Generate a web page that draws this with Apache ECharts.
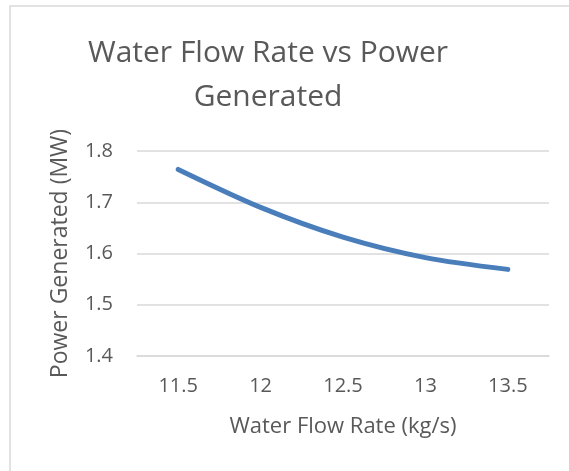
<!DOCTYPE html>
<html>
<head>
<meta charset="utf-8">
<script src="https://cdn.jsdelivr.net/npm/echarts@6/dist/echarts.min.js"></script>
<style>
  html, body { margin: 0; padding: 0; background: #fff; }
  #chart { width: 569px; height: 471px; }
</style>
</head>
<body>
<div id="chart"></div>
<script>
// flow rate categories and power values
const flowRates = ['11.5', '12', '12.5', '13', '13.5'];
const powerMW = [1.764, 1.690, 1.632, 1.592, 1.569];
const yTicks = { min: 1.4, max: 1.8, step: 0.1 };

const font = '"Open Sans", "Noto Sans", sans-serif';
const grey = '#595959';

const chart = echarts.init(document.getElementById('chart'));
chart.setOption({
  animation: false,
  backgroundColor: '#fff',
  // outer chart border
  graphic: [{
    type: 'rect',
    shape: { x: 10, y: 6, width: 700, height: 600 },
    style: { fill: 'none', stroke: '#d9d9d9', lineWidth: 1.5 },
    silent: true
  }],
  title: {
    text: 'Water Flow Rate vs Power\nGenerated',
    left: 263,
    textAlign: 'center',
    top: 26,
    textStyle: {
      fontFamily: font,
      fontSize: 30,
      fontWeight: 'normal',
      color: grey,
      lineHeight: 44
    }
  },
  grid: { left: 137, right: 20, top: 151, bottom: 115 },
  xAxis: {
    type: 'category',
    data: flowRates,
    boundaryGap: true,
    name: 'Water Flow Rate (kg/s)',
    nameLocation: 'middle',
    nameGap: 60,
    nameTextStyle: { fontFamily: font, fontSize: 22, color: grey },
    axisLine: { lineStyle: { color: '#d9d9d9', width: 1.5 } },
    axisTick: { show: false },
    axisLabel: { fontFamily: font, fontSize: 20, color: grey, margin: 20 }
  },
  yAxis: {
    type: 'value',
    min: yTicks.min,
    max: yTicks.max,
    interval: yTicks.step,
    name: 'Power Generated (MW)',
    nameLocation: 'middle',
    nameGap: 65,
    nameTextStyle: { fontFamily: font, fontSize: 23, color: grey },
    axisLine: { show: false },
    axisTick: { show: false },
    axisLabel: {
      fontFamily: font, fontSize: 20, color: grey, margin: 24,
      formatter: v => v.toFixed(1)
    },
    splitLine: { lineStyle: { color: '#d9d9d9', width: 1.5 } }
  },
  series: [{
    type: 'line',
    data: powerMW,
    smooth: 0.3,
    symbol: 'none',
    lineStyle: { color: '#4a7ebb', width: 5, cap: 'round' }
  }]
});
</script>
</body>
</html>
